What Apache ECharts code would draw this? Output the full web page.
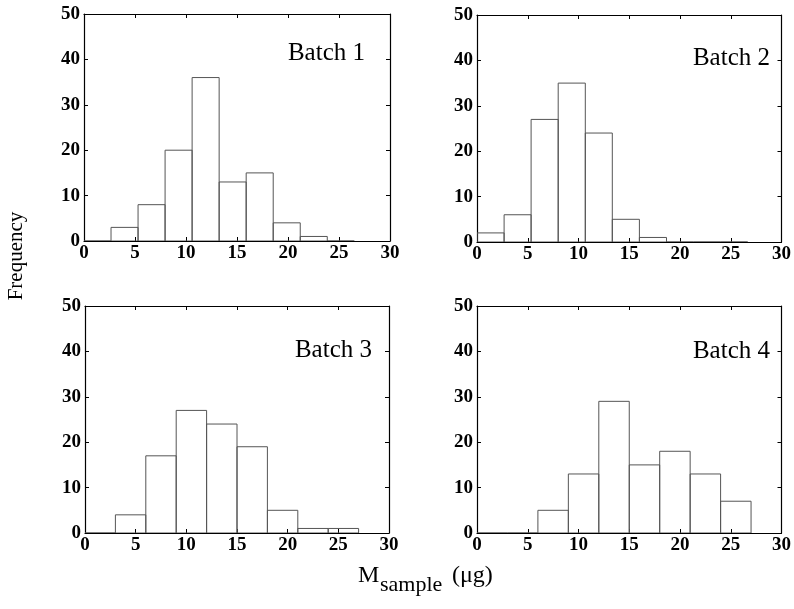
<!DOCTYPE html>
<html><head><meta charset="utf-8">
<script src="https://cdn.jsdelivr.net/npm/echarts@6/dist/echarts.min.js"></script>
<style>html,body{margin:0;padding:0;background:#fff}#c{width:794px;height:609px}</style>
</head><body><div id="c"></div>
<script>
// ---- data ----
const batchNames = ['Batch 1', 'Batch 2', 'Batch 3', 'Batch 4'];
const edgesB1 = [0, 2.65, 5.3, 7.95, 10.6, 13.25, 15.9, 18.55, 21.2, 23.85, 26.5];
const countsB1 = [0, 3, 8, 20, 36, 13, 15, 4, 1, 0];
const edgesB2 = [0, 2.67, 5.33, 8, 10.67, 13.33, 16, 18.67, 21.33, 24, 26.67];
const countsB2 = [2, 6, 27, 35, 24, 5, 1, 0, 0, 0];
const edgesB3 = [0, 3, 6, 9, 12, 15, 18, 21, 24, 27];
const countsB3 = [0, 4, 17, 27, 24, 19, 5, 1, 1];
const edgesB4 = [0, 3, 6, 9, 12, 15, 18, 21, 24, 27];
const countsB4 = [0, 0, 5, 13, 29, 15, 18, 13, 7];
const xRange = [0, 30], xStep = 5;
const yRange = [0, 50], yStep = 10;
const yTitle = 'Frequency';
const xTitleMain = 'M', xTitleSub = 'sample', xTitleUnit = '(\u03bcg)';

const edges = [edgesB1, edgesB2, edgesB3, edgesB4];
const counts = [countsB1, countsB2, countsB3, countsB4];

// ---- layout ----
const grids = [
  {left: 84, top: 14, width: 306, height: 227},
  {left: 477, top: 15, width: 305, height: 227},
  {left: 85, top: 306, width: 304, height: 227},
  {left: 477, top: 306, width: 305, height: 227}
];
const labelPos = [[365, 53], [770, 58], [372, 350], [770, 351]];
const FONT = '"Liberation Serif", "Times New Roman", serif';
const lineCol = '#000';

const xAxes = [], yAxes = [], series = [], graphics = [];
grids.forEach((g, i) => {
  const common = {min: xRange[0], max: xRange[1], interval: xStep, gridIndex: i, type: 'value',
    splitLine: {show: false},
    axisLine: {show: true, onZero: false, lineStyle: {color: lineCol, width: 1.2}},
    axisTick: {show: true, inside: true, length: 4, lineStyle: {color: lineCol}}};
  xAxes.push(Object.assign({}, common, {position: 'bottom',
    axisLabel: {show: true, color: '#000', fontFamily: FONT, fontSize: 19, fontWeight: 'bold', margin: 3}}));
  xAxes.push(Object.assign({}, common, {position: 'top', axisLabel: {show: false}}));
  const ycommon = {min: yRange[0], max: yRange[1], interval: yStep, gridIndex: i, type: 'value',
    splitLine: {show: false},
    axisLine: {show: true, onZero: false, lineStyle: {color: lineCol, width: 1.2}},
    axisTick: {show: true, inside: true, length: 4, lineStyle: {color: lineCol}}};
  yAxes.push(Object.assign({}, ycommon, {position: 'left',
    axisLabel: {show: true, color: '#000', fontFamily: FONT, fontSize: 19, fontWeight: 'bold', margin: 4}}));
  yAxes.push(Object.assign({}, ycommon, {position: 'right', axisLabel: {show: false}}));

  const e = edges[i], c = counts[i];
  const data = c.map((h, k) => [e[k], e[k + 1], h]);
  series.push({
    type: 'custom', xAxisIndex: 2 * i, yAxisIndex: 2 * i,
    data: data, encode: {x: [0, 1], y: 2}, clip: true, silent: true,
    renderItem: function (params, api) {
      const p0 = api.coord([api.value(0), api.value(2)]);
      const p1 = api.coord([api.value(1), 0]);
      return {type: 'rect',
        shape: {x: p0[0], y: p0[1], width: p1[0] - p0[0], height: p1[1] - p0[1]},
        style: {fill: 'none', stroke: '#555', lineWidth: 1}};
    }
  });

  graphics.push({type: 'text', x: labelPos[i][0], y: labelPos[i][1],
    style: {text: batchNames[i], font: '25px ' + FONT, fill: '#000', textAlign: 'right', textVerticalAlign: 'middle'}});
});

graphics.push({type: 'text', x: 16, y: 256, rotation: Math.PI / 2,
  style: {text: yTitle, font: '21px ' + FONT, fill: '#000', textAlign: 'center', textVerticalAlign: 'middle'}});
graphics.push({type: 'text', x: 358, y: 588,
  style: {text: xTitleMain, font: '24px ' + FONT, fill: '#000', textAlign: 'left', textVerticalAlign: 'bottom'}});
graphics.push({type: 'text', x: 380, y: 596,
  style: {text: xTitleSub, font: '22px ' + FONT, fill: '#000', textAlign: 'left', textVerticalAlign: 'bottom'}});
graphics.push({type: 'text', x: 452, y: 588,
  style: {text: xTitleUnit, font: '24px ' + FONT, fill: '#000', textAlign: 'left', textVerticalAlign: 'bottom'}});

const chart = echarts.init(document.getElementById('c'), null, {renderer: 'canvas'});
chart.setOption({
  animation: false,
  backgroundColor: '#fff',
  grid: grids,
  xAxis: xAxes,
  yAxis: yAxes,
  series: series,
  graphic: graphics
});
</script>
</body></html>
